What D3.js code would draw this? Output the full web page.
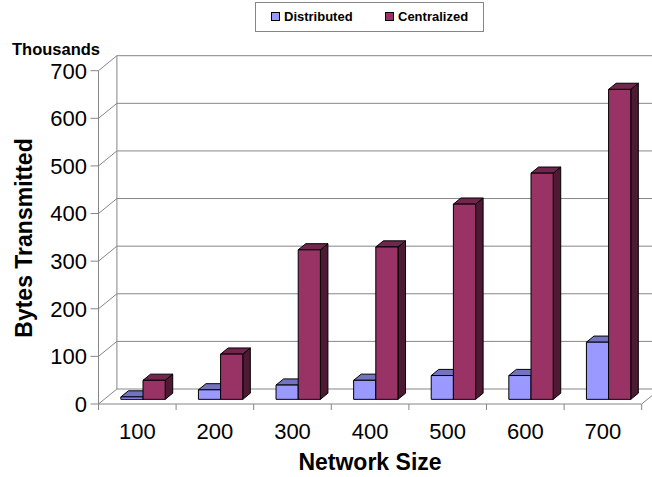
<!DOCTYPE html>
<html>
<head>
<meta charset="utf-8">
<script src="https://cdn.jsdelivr.net/npm/d3@7"></script>
<style>
  html, body { margin: 0; padding: 0; background: #fff; }
  svg { display: block; font-family: "Liberation Sans", Arial, sans-serif; }
</style>
</head>
<body>
<svg id="chart" width="652" height="477"></svg>
<script>
// Bytes transmitted (thousands) by network size, two architectures
const categories = ["100", "200", "300", "400", "500", "600", "700"];
const seriesNames = ["Distributed", "Centralized"];
const distributed = [5, 20, 30, 40, 50, 50, 120];
const centralized = [40, 95, 314, 320, 410, 475, 651];
const yTicks = [0, 100, 200, 300, 400, 500, 600, 700];

const svg = d3.select("#chart");

// front plane of the 3-D box
const x = d3.scaleBand().domain(categories).range([98.5, 641.7]).padding(0);
const xs = d3.scaleBand().domain(seriesNames).range([0, x.bandwidth()])
  .paddingInner(0).paddingOuter(0.75);
const y = d3.scaleLinear().domain([0, 700]).range([404, 70.7]);

// depth offset of the back wall
const DX = 18.4, DY = -15;
// bars occupy this slice of the depth
const F1 = 0.31, F2 = 0.72;

const gridColor = "#868686";
const X0 = x.range()[0], X1 = x.range()[1];

const frame = svg.append("g").attr("fill", "none").attr("stroke", gridColor).attr("stroke-width", 1);

// back wall gridlines
frame.selectAll("line.grid").data(yTicks).join("line")
  .attr("class", "grid")
  .attr("x1", X0 + DX).attr("x2", X1 + DX)
  .attr("y1", d => y(d) + DY).attr("y2", d => y(d) + DY);
// back wall left edge
frame.append("line")
  .attr("x1", X0 + DX).attr("x2", X0 + DX)
  .attr("y1", y(700) + DY).attr("y2", y(0) + DY);
// side wall gridlines
frame.selectAll("line.side").data(yTicks).join("line")
  .attr("class", "side")
  .attr("x1", X0).attr("x2", X0 + DX)
  .attr("y1", d => y(d)).attr("y2", d => y(d) + DY);
// floor front edge and right edge
frame.append("line").attr("x1", X0).attr("x2", X1).attr("y1", y(0)).attr("y2", y(0));
frame.append("line").attr("x1", X1).attr("x2", X1 + DX).attr("y1", y(0)).attr("y2", y(0) + DY);
// value axis line
frame.append("line").attr("x1", X0).attr("x2", X0).attr("y1", y(700)).attr("y2", y(0));
// value ticks
frame.selectAll("line.vtick").data(yTicks).join("line")
  .attr("class", "vtick")
  .attr("x1", X0 - 8).attr("x2", X0)
  .attr("y1", d => y(d)).attr("y2", d => y(d));
// category ticks
const bounds = categories.map(c => x(c)).concat([X1]);
frame.selectAll("line.ctick").data(bounds).join("line")
  .attr("class", "ctick")
  .attr("x1", d => d).attr("x2", d => d)
  .attr("y1", y(0)).attr("y2", y(0) + 6);

// bars
const colors = {
  Distributed: { front: "#9999ff", top: "#7373bf", side: "#4d4d80" },
  Centralized: { front: "#993366", top: "#73264d", side: "#4d1933" }
};
const rows = [];
categories.forEach((c, i) => {
  rows.push({ cat: c, s: "Distributed", v: distributed[i] });
  rows.push({ cat: c, s: "Centralized", v: centralized[i] });
});
const bw = xs.bandwidth();
const ddx = (F2 - F1) * DX, ddy = (F2 - F1) * DY;
const bars = svg.append("g").attr("stroke", "#000").attr("stroke-width", 1).attr("stroke-linejoin", "round");
rows.forEach(r => {
  const bx0 = x(r.cat) + xs(r.s) + F1 * DX;
  const bx1 = bx0 + bw;
  const yb = y(0) + F1 * DY;
  const yt = y(r.v) + F1 * DY;
  const col = colors[r.s];
  const g = bars.append("g");
  g.append("polygon")
    .attr("points", [[bx1, yt], [bx1 + ddx, yt + ddy], [bx1 + ddx, yb + ddy], [bx1, yb]].join(" "))
    .attr("fill", col.side);
  g.append("polygon")
    .attr("points", [[bx0, yt], [bx0 + ddx, yt + ddy], [bx1 + ddx, yt + ddy], [bx1, yt]].join(" "))
    .attr("fill", col.top);
  g.append("rect")
    .attr("x", bx0).attr("y", yt).attr("width", bw).attr("height", yb - yt)
    .attr("fill", col.front);
});

// value tick labels
svg.append("g").selectAll("text").data(yTicks).join("text")
  .attr("x", 87).attr("y", d => y(d))
  .attr("dy", "0.36em")
  .attr("text-anchor", "end")
  .attr("font-size", 22)
  .attr("fill", "#000")
  .text(d => d);

// category labels
svg.append("g").selectAll("text").data(categories).join("text")
  .attr("x", d => x(d) + x.bandwidth() / 2).attr("y", 439)
  .attr("text-anchor", "middle")
  .attr("font-size", 22)
  .attr("fill", "#000")
  .text(d => d);

// titles
svg.append("text")
  .attr("x", 12).attr("y", 55)
  .attr("font-size", 16.5).attr("font-weight", "bold")
  .text("Thousands");
svg.append("text")
  .attr("transform", "translate(32,238) rotate(-90)")
  .attr("text-anchor", "middle")
  .attr("font-size", 23).attr("font-weight", "bold")
  .text("Bytes Transmitted");
svg.append("text")
  .attr("x", 370).attr("y", 470)
  .attr("text-anchor", "middle")
  .attr("font-size", 23).attr("font-weight", "bold")
  .text("Network Size");

// legend
const legend = svg.append("g");
legend.append("rect")
  .attr("x", 255.5).attr("y", 2.5).attr("width", 228).attr("height", 29)
  .attr("fill", "#fff").attr("stroke", gridColor);
const legendPos = [{ s: "Distributed", sx: 271, tx: 284 }, { s: "Centralized", sx: 385, tx: 398 }];
legend.selectAll("rect.sw").data(legendPos).join("rect")
  .attr("class", "sw")
  .attr("x", d => d.sx + 0.5).attr("y", 12.5).attr("width", 8).attr("height", 8)
  .attr("fill", d => colors[d.s].front).attr("stroke", "#000");
legend.selectAll("text").data(legendPos).join("text")
  .attr("x", d => d.tx).attr("y", 21)
  .attr("font-size", 13).attr("font-weight", "bold")
  .text(d => d.s);
</script>
</body>
</html>
